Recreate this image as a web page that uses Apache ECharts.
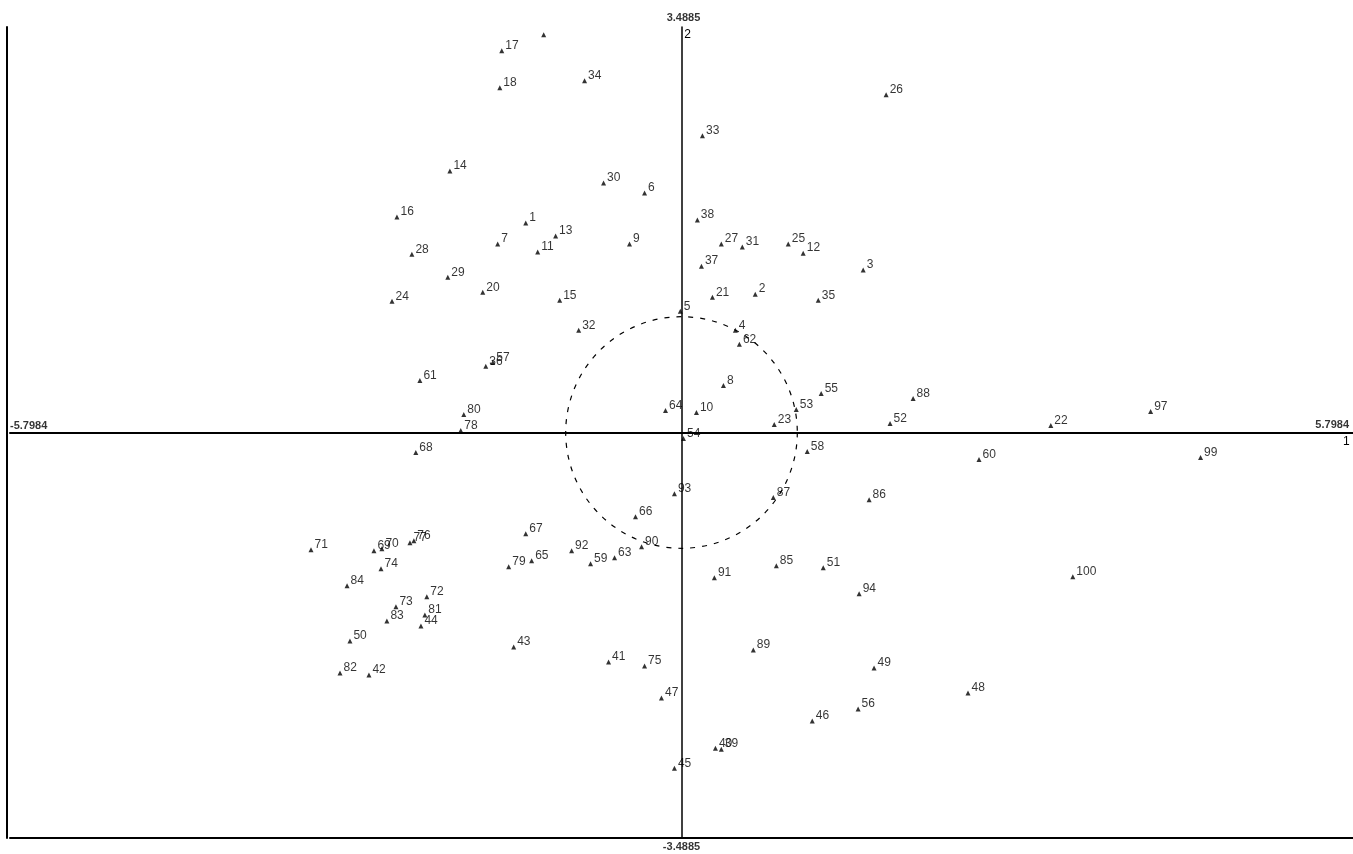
<!DOCTYPE html>
<html>
<head>
<meta charset="utf-8">
<title>Scores</title>
<script src="https://cdn.jsdelivr.net/npm/echarts@6/dist/echarts.min.js"></script>
<style>
  html, body { margin: 0; padding: 0; background: #fff; }
  #main { width: 1353px; height: 854px; }
</style>
</head>
<body>
<div id="main"></div>
<script>
// axis limits printed on the plot
const xLimit = 5.7984;
const yLimit = 3.4885;

// point labels and their coordinates
const pointLabels = [
  "", "17", "18", "34", "14", "16", "28", "29", "24", "20", "7", "1", "11", "13", "15",
  "30", "6", "9", "32", "36", "57", "61", "80", "78", "68", "5",
  "33", "38", "27", "31", "25", "12", "37", "21", "2", "35", "3", "26", "4", "62", "8",
  "55", "53", "23", "88", "52", "22", "97", "10", "64", "54",
  "58", "60", "99", "87", "86", "100", "85", "51", "94", "91", "89", "49", "48", "56", "46",
  "40", "39", "45", "47", "75", "41", "43",
  "93", "66", "90", "63", "59", "92", "65", "79", "67",
  "71", "69", "70", "76", "77", "74", "84", "72", "73", "83", "81", "44", "50", "82", "42"
];
const pointX = [
  -1.190, -1.552, -1.569, -0.837, -2.000, -2.457, -2.328, -2.018, -2.500, -1.716, -1.587, -1.345, -1.242, -1.087, -1.052,
  -0.673, -0.319, -0.449, -0.888, -1.690, -1.630, -2.259, -1.880, -1.906, -2.294, -0.010,
  0.181, 0.137, 0.344, 0.525, 0.922, 1.051, 0.172, 0.267, 0.637, 1.181, 1.569, 1.767, 0.465, 0.500, 0.362,
  1.206, 0.991, 0.801, 2.000, 1.801, 3.189, 4.051, 0.129, -0.138, 0.017,
  1.086, 2.569, 4.482, 0.793, 1.620, 3.379, 0.819, 1.224, 1.534, 0.284, 0.620, 1.663, 2.474, 1.525, 1.129,
  0.293, 0.344, -0.061, -0.173, -0.319, -0.630, -1.449,
  -0.061, -0.397, -0.345, -0.578, -0.785, -0.949, -1.294, -1.492, -1.345,
  -3.199, -2.656, -2.587, -2.311, -2.345, -2.595, -2.888, -2.199, -2.466, -2.544, -2.216, -2.250, -2.863, -2.949, -2.699
];
const pointY = [
  3.422, 3.284, 2.966, 3.026, 2.250, 1.853, 1.534, 1.336, 1.129, 1.207, 1.621, 1.802, 1.552, 1.690, 1.138,
  2.147, 2.060, 1.621, 0.879, 0.569, 0.603, 0.448, 0.155, 0.017, -0.172, 1.043,
  2.552, 1.828, 1.621, 1.595, 1.621, 1.543, 1.431, 1.164, 1.190, 1.138, 1.397, 2.905, 0.879, 0.759, 0.405,
  0.336, 0.198, 0.069, 0.293, 0.078, 0.060, 0.181, 0.172, 0.190, -0.052,
  -0.164, -0.233, -0.216, -0.560, -0.578, -1.241, -1.147, -1.164, -1.388, -1.250, -1.871, -2.026, -2.241, -2.379, -2.483,
  -2.716, -2.724, -2.888, -2.284, -2.009, -1.974, -1.845,
  -0.526, -0.724, -0.983, -1.078, -1.129, -1.017, -1.103, -1.155, -0.871,
  -1.009, -1.017, -1.000, -0.931, -0.948, -1.172, -1.319, -1.414, -1.500, -1.621, -1.569, -1.664, -1.793, -2.069, -2.086
];

const myChart = echarts.init(document.getElementById("main"));
const font = "'Liberation Sans', Arial, sans-serif";

const points = pointLabels.map((lab, i) => ({ value: [pointX[i], pointY[i]], name: lab }));

// limit labels sit at the ends of the two centre axes
const limitData = [
  { value: [-xLimit, 0], label: { position: "right", distance: 0, offset: [0, -7] } },
  { value: [xLimit, 0], label: { position: "left", distance: 4, offset: [0, -8] } },
  { value: [0, yLimit], label: { position: "top", distance: 4, offset: [2, 0] } },
  { value: [0, -yLimit], label: { position: "bottom", distance: 3, offset: [0, 0] } },
];

const hidden = {
  axisTick: { show: false },
  axisLabel: { show: false },
  splitLine: { show: false },
};

const option = {
  animation: false,
  backgroundColor: "#fff",
  grid: { left: 10, right: -3, top: 27, bottom: 16, containLabel: false },
  xAxis: [
    {
      type: "value", min: -xLimit, max: xLimit, ...hidden,
      axisLine: { onZero: true, lineStyle: { color: "#000", width: 2 } },
      name: "1", nameLocation: "end", nameGap: -10,
      nameTextStyle: { color: "#000", fontSize: 12, fontFamily: font, verticalAlign: "top", padding: [3, 0, 0, 0] },
    },
    {
      type: "value", position: "bottom", min: -xLimit, max: xLimit, ...hidden,
      axisLine: { show: true, onZero: false, lineStyle: { color: "#000", width: 2 } },
    },
  ],
  yAxis: [
    {
      type: "value", min: -yLimit, max: yLimit, ...hidden,
      axisLine: { onZero: true, lineStyle: { color: "#000", width: 1.5 } },
      name: "2", nameLocation: "end", nameGap: -14,
      nameTextStyle: { color: "#000", fontSize: 12, fontFamily: font, padding: [0, 0, 0, 12] },
    },
    {
      type: "value", position: "left", offset: 3, min: -yLimit, max: yLimit, ...hidden,
      axisLine: { show: true, onZero: false, lineStyle: { color: "#000", width: 2 } },
    },
  ],
  series: [
    {
      name: "points",
      type: "scatter",
      symbol: "triangle",
      symbolSize: 5,
      itemStyle: { color: "#000" },
      label: {
        show: true,
        formatter: (p) => p.name,
        position: "right",
        distance: 1,
        offset: [0, -5],
        color: "#000",
        fontSize: 12,
        fontFamily: font,
      },
      data: points,
    },
    {
      name: "limits",
      type: "scatter",
      symbolSize: 0,
      label: {
        show: true,
        formatter: (p) => {
          const v = p.value[0] !== 0 ? p.value[0] : p.value[1];
          return v.toFixed(4);
        },
        color: "#000",
        fontSize: 11,
        fontWeight: "bold",
        fontFamily: font,
      },
      data: limitData,
    },
  ],
};

myChart.setOption(option);

// dashed unit circle drawn through the chart's own scale
const c = myChart.convertToPixel({ xAxisIndex: 0, yAxisIndex: 0 }, [0, 0]);
const e = myChart.convertToPixel({ xAxisIndex: 0, yAxisIndex: 0 }, [1, 0]);
myChart.setOption({
  graphic: [
    {
      type: "circle",
      shape: { cx: c[0], cy: c[1], r: e[0] - c[0] },
      style: { fill: null, stroke: "#000", lineWidth: 1.2, lineDash: [5, 7] },
      silent: true,
    },
  ],
});
</script>
</body>
</html>
